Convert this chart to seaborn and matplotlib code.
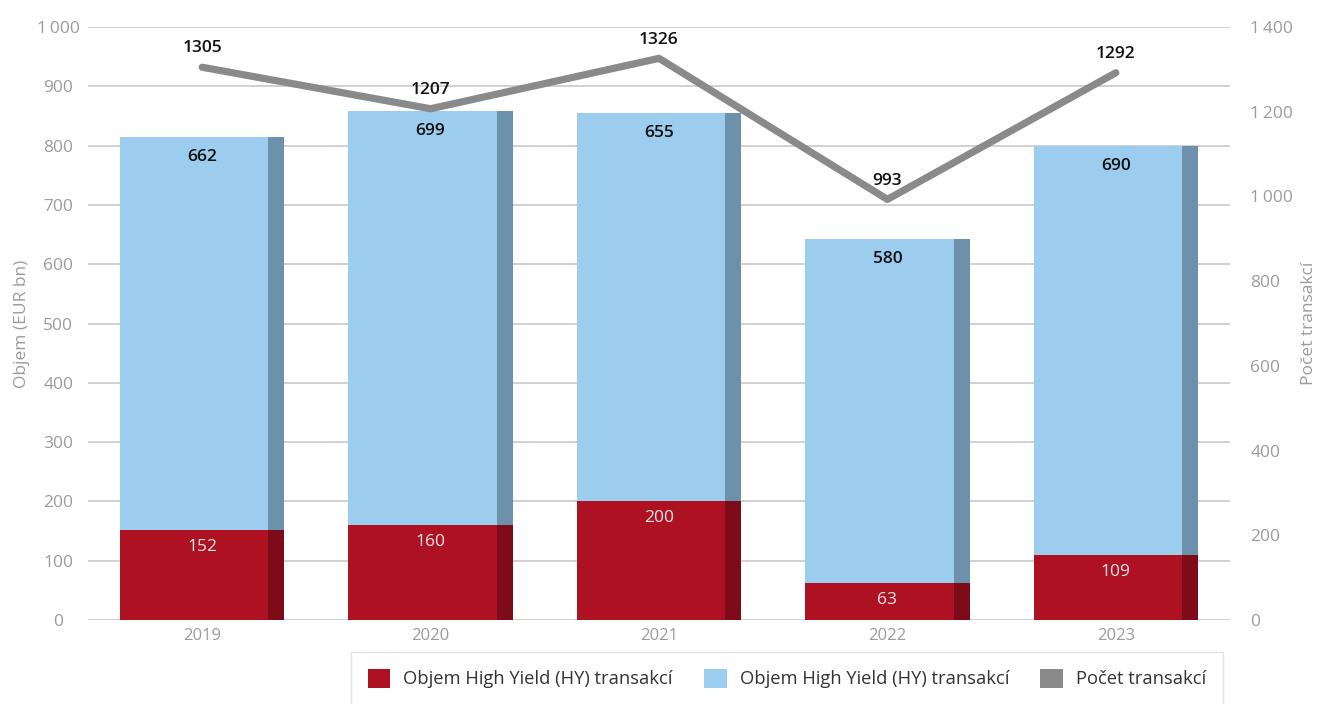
import numpy as np
import pandas as pd
import matplotlib
matplotlib.use("Agg")
import matplotlib.pyplot as plt
from matplotlib.patches import Rectangle, Patch
import seaborn as sns

# --- data -------------------------------------------------------------
years = ["2019", "2020", "2021", "2022", "2023"]
hy_volume = [152, 160, 200, 63, 109]          # Objem High Yield (HY) transakcí – spodní část
other_volume = [662, 699, 655, 580, 690]      # Objem – horní část sloupce
deal_count = [1305, 1207, 1326, 993, 1292]    # Počet transakcí (pravá osa)

left_ticks = [0, 100, 200, 300, 400, 500, 600, 700, 800, 900, 1000]
right_ticks = [0, 200, 400, 600, 800, 1000, 1200, 1400]

legend_labels = ["Objem High Yield (HY) transakcí",
                 "Objem High Yield (HY) transakcí",
                 "Počet transakcí"]

# --- style ------------------------------------------------------------
RED, RED_SIDE = "#ae1222", "#7e0b19"
BLUE, BLUE_SIDE = "#9dcdee", "#6e91ab"
LINE = "#8a8a8a"
GRID = "#c8c8c8"
TICK = "#9b9b9b"

sns.set_theme(style="white")
plt.rcParams["font.family"] = ["Open Sans", "DejaVu Sans"]

df = pd.DataFrame({"year": years, "hy": hy_volume, "other": other_volume,
                   "count": deal_count})
df["total"] = df["hy"] + df["other"]

fig = plt.figure(figsize=(13.21, 7.04), dpi=100)
ax = fig.add_axes([88 / 1321, 84 / 704, (1230 - 88) / 1321, (620 - 27) / 704])

BAR_W = 0.72
SIDE_FRAC = 0.097


def add_sides(ax, start, color):
    for p in ax.patches[start:]:
        x, y = p.get_x(), p.get_y()
        w, h = p.get_width(), p.get_height()
        sw = w * SIDE_FRAC
        ax.add_patch(Rectangle((x + w - sw, y), sw, h, facecolor=color,
                               edgecolor="none", linewidth=0,
                               zorder=p.get_zorder()))


n0 = len(ax.patches)
sns.barplot(data=df, x="year", y="total", color=BLUE, saturation=1,
            width=BAR_W, ax=ax, zorder=2, linewidth=0, edgecolor="none")
add_sides(ax, n0, BLUE_SIDE)
n1 = len(ax.patches)
sns.barplot(data=df, x="year", y="hy", color=RED, saturation=1,
            width=BAR_W, ax=ax, zorder=2, linewidth=0, edgecolor="none")
add_sides(ax, n1, RED_SIDE)

ax.set_xlim(-0.5, len(years) - 0.5)
ax.set_ylim(0, 1000)
ax.set_yticks(left_ticks)
ax.set_yticklabels([f"{v:,}".replace(",", "\u2009") for v in left_ticks],
                   ha="center")
ax.tick_params(axis="y", length=0, pad=21.5, labelsize=12.5, labelcolor=TICK)
ax.tick_params(axis="x", length=0, pad=6, labelsize=12, labelcolor=TICK)
ax.set_xlabel("")
ax.set_ylabel("Objem (EUR bn)", color=TICK, fontsize=12.5)
ax.yaxis.set_label_coords(-0.0505, 0.5)
ax.grid(axis="y", color=GRID, linewidth=1.2, zorder=0)
ax.set_axisbelow(True)
for s in ax.spines.values():
    s.set_visible(False)

# value labels in the bars
for i, row in df.iterrows():
    ax.annotate(f"{row['other']}", (i, row["total"]), xytext=(0, -14.4),
                textcoords="offset points", ha="center", va="center",
                fontsize=12.5, fontweight="semibold", color="#111111", zorder=5)
    ax.annotate(f"{row['hy']}", (i, row["hy"]), xytext=(0, -12.3),
                textcoords="offset points", ha="center", va="center",
                fontsize=12.5, color="#e6e6e6", zorder=5)

# deal count on the secondary axis
ax2 = ax.twinx()
sns.lineplot(x=np.arange(len(years)), y=df["count"], color=LINE,
             linewidth=5.2, ax=ax2, solid_capstyle="round", zorder=3)
ax2.set_ylim(0, 1400)
ax2.set_yticks(right_ticks)
ax2.set_yticklabels([f"{v:,}".replace(",", "\u2009") for v in right_ticks],
                    ha="left")
ax2.tick_params(axis="y", length=0, pad=14.5, labelsize=12.5, labelcolor=TICK)
ax2.set_ylabel("Počet transakcí", color=TICK, fontsize=12.5, rotation=90)
ax2.yaxis.set_label_coords(1.062, 0.5)
ax2.grid(False)
for s in ax2.spines.values():
    s.set_visible(False)
ax2.set_xlim(-0.5, len(years) - 0.5)

for i, v in enumerate(deal_count):
    ax2.annotate(f"{v}", (i, v), xytext=(0, 13.5), textcoords="offset points",
                 ha="center", va="center", fontsize=12.5,
                 fontweight="semibold", color="#111111", zorder=5)

# legend below the chart
handles = [Patch(facecolor=RED, edgecolor="none"),
           Patch(facecolor=BLUE, edgecolor="none"),
           Patch(facecolor=LINE, edgecolor="none")]
leg = fig.legend(handles, legend_labels, ncol=3, loc="upper left",
                 bbox_to_anchor=(351 / 1321, 1 - 652 / 704),
                 fontsize=13.2, frameon=True, fancybox=False,
                 handlelength=1.25, handleheight=1.25, handletextpad=0.7,
                 columnspacing=1.7, borderpad=0.9, borderaxespad=0)
leg.get_frame().set_edgecolor("#dcdcdc")
leg.get_frame().set_linewidth(1.0)
for t in leg.get_texts():
    t.set_color("#333333")

fig.savefig("out.png", dpi=100)
